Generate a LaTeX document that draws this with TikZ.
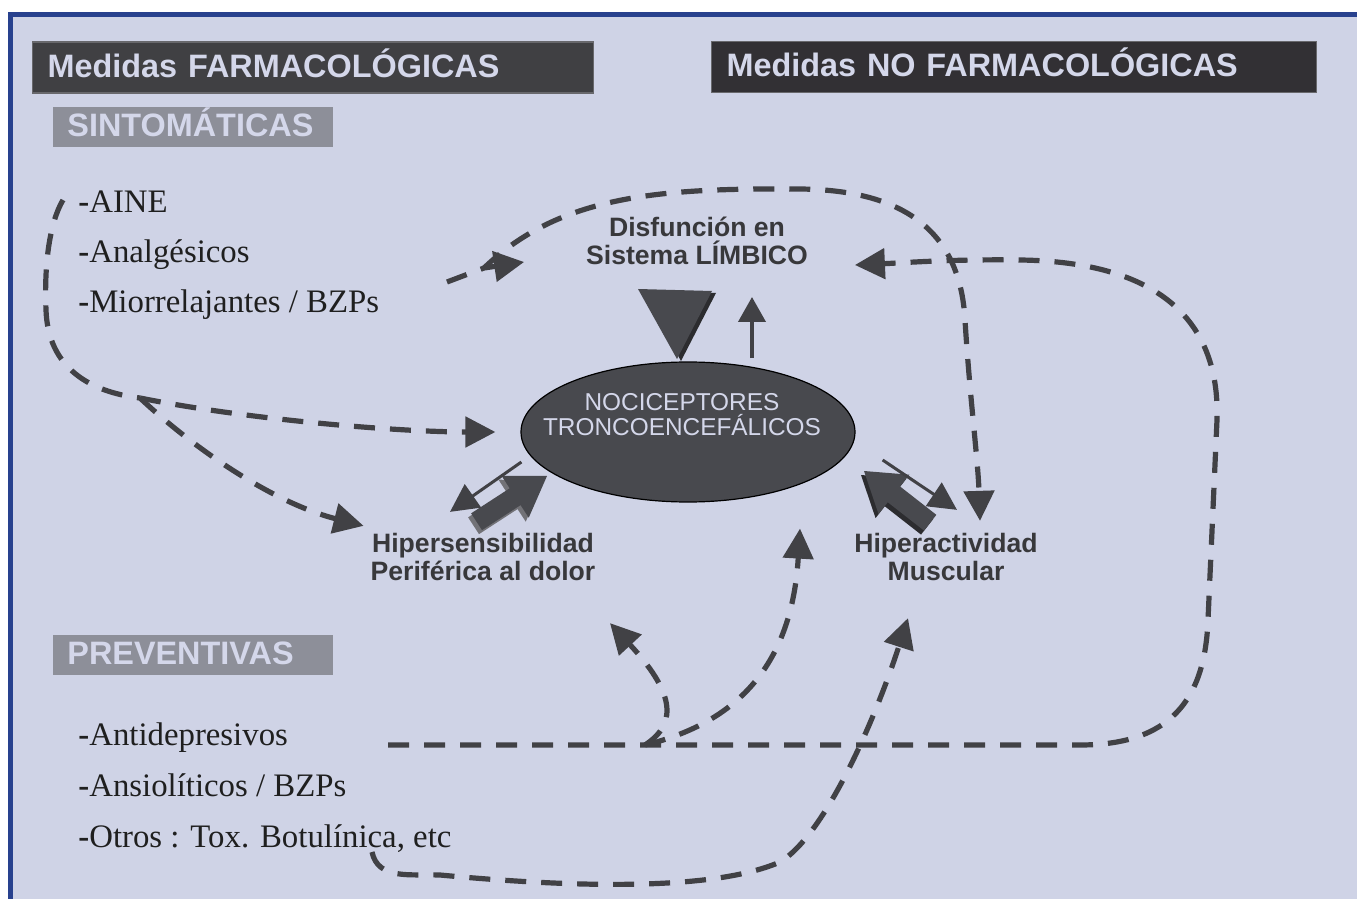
\documentclass[tikz,border=0pt]{standalone}
\usepackage{fontspec}
\setmainfont{Liberation Serif}
\setsansfont{Liberation Sans}
\usepackage{xcolor}
\usepackage{tikz}
\usetikzlibrary{arrows.meta,positioning,shapes.geometric}
\definecolor{bgc}{HTML}{CFD3E6}
\definecolor{bordc}{HTML}{28418E}
\definecolor{hdra}{HTML}{404043}
\definecolor{hdrb}{HTML}{323034}
\definecolor{hdre}{HTML}{68686C}
\definecolor{subc}{HTML}{8D8F99}
\definecolor{lavt}{HTML}{D4D7EA}
\definecolor{inkc}{HTML}{414145}
\definecolor{labc}{HTML}{38383B}
\definecolor{ellc}{HTML}{48494E}
\definecolor{shdc}{HTML}{2C2C2F}
\definecolor{litc}{HTML}{727277}
\tikzset{
  hdr/.style={draw=hdre,line width=0.6pt,anchor=west,minimum height=25.5pt,inner xsep=7.5pt,align=left,
    font=\sffamily\bfseries\fontsize{16.2}{18}\selectfont,text=lavt,text height=11.6pt,text depth=2pt},
  sub/.style={fill=subc,anchor=west,minimum height=20pt,inner xsep=7pt,inner ysep=2pt,text width=126pt,align=left,
    font=\sffamily\bfseries\fontsize{16.2}{18}\selectfont,text=lavt,text height=11.6pt,text depth=2pt},
  itm/.style={anchor=base west,inner sep=0pt,font=\fontsize{16.4}{18}\selectfont,text=black!88},
  lab/.style={align=center,font=\sffamily\bfseries\fontsize{13.3}{14.3}\selectfont,text=labc},
  dl/.style={draw=inkc,line width=2.6pt,dash pattern=on 10.5pt off 7.5pt},
  dla/.style={dl,-{Triangle[length=15pt,width=15pt]}},
  thn/.style={draw=inkc,line width=1.5pt,-{Triangle[length=14pt,width=14pt]}},
  blk/.pic={\fill[pic actions] (0,0) -- (-38,25) -- (-38,10) -- (-84,10) -- (-84,-10) -- (-38,-10) -- (-38,-25) -- cycle;}
}
\begin{document}
\begin{tikzpicture}[x=0.5pt,y=-0.5pt]
\useasboundingbox (0,0) rectangle (1357,899);
\fill[white] (0,0) rectangle (1357,899);
\fill[bgc] (10,14) rectangle (1357,899);
\draw[bordc,line width=2.5pt] (10.5,899) -- (10.5,14.5) -- (1357,14.5);

\node[hdr,fill=hdra,text width=265.5pt] (farma) at (32,67.5) {Medidas FARMACOLÓGICAS};
\node[hdr,fill=hdrb,text width=287.5pt] (nofarma) at (711,67) {Medidas NO FARMACOLÓGICAS};
\node[sub] (sinto) at (53,127) {SINTOMÁTICAS};
\node[sub] (preve) at (53,654.5) {PREVENTIVAS};

\node[itm] (aine) at (78,213) {\textbf{-}AINE};
\node[itm] (analg) at (78,263) {\textbf{-}Analgésicos};
\node[itm] (mio) at (78,313) {\textbf{-}Miorrelajantes / BZPs};
\node[itm] (antid) at (78,745) {\textbf{-}Antidepresivos};
\node[itm] (ansio) at (78,796) {\textbf{-}Ansiolíticos / BZPs};
\node[itm] (otros) at (78,847) {\textbf{-}Otros : Tox. Botulínica, etc};

\node[ellipse,draw=black,line width=0.6pt,fill=ellc,minimum width=167pt,minimum height=70pt,inner sep=0pt] (noci) at (688,432) {};
\node[align=center,text=lavt,font=\sffamily\fontsize{12.2}{12.5}\selectfont] (nocit) at (682,415) {NOCICEPTORES\\TRONCOENCEFÁLICOS};

\fill[shdc] (642,290) -- (716,293) -- (681,361) -- cycle;
\fill[ellc] (638,289) -- (712,291) -- (677,359) -- cycle;
\coordinate (upb) at (752,358);
\coordinate (upt) at (752,297);
\draw[draw=inkc,line width=2pt,-{Triangle[length=12.5pt,width=13.5pt]}] (upb) -- (upt);

\pic[fill=litc,rotate=33] at (544,480) {blk};
\pic[fill=ellc,rotate=33] at (547,476) {blk};
\pic[fill=shdc,rotate=142] at (861,475) {blk};
\pic[fill=ellc,rotate=142] at (864,471) {blk};

\node[lab] (limb) at (697,241) {Disfunción en\\Sistema LÍMBICO};
\node[lab] (hiper) at (483,557) {Hipersensibilidad\\Periférica al dolor};
\node[lab] (musc) at (946,557) {Hiperactividad\\Muscular};

\draw[thn] ([shift={(1,30)}]noci.west) -- ([shift={(-33,-14)}]hiper.north);
\draw[thn] ([shift={(27,28)}]noci.east) -- ([shift={(11,-16)}]musc.north);

\coordinate (c1) at (63,200);
\coordinate (cj) at (140,398);
\coordinate (c2) at (447,282);
\coordinate (cja) at (484,268);
\coordinate (c3) at (388,745);
\coordinate (cjb) at (645,745);
\coordinate (c4) at (372,852);
\draw[dl] (c1) .. controls (50,222) and (44,262) .. (46,310) .. controls (48,368) and (90,392) .. (cj);
\draw[dla] (cj) .. controls (250,420) and (400,432) .. ([xshift=-12.5pt]noci.west);
\draw[dla] (cj) .. controls (190,445) and (270,502) .. (hiper.north west);
\draw[dla] (c2) -- (cja) -- ([shift={(-55,21)}]limb.west);
\draw[dla] (cja) .. controls (560,195) and (660,188) .. (800,189) .. controls (900,190) and (960,228) .. (965,320) .. controls (970,400) and (978,460) .. ([shift={(34,-5)}]musc.north);
\draw[dla] (c3) -- (1080,745) .. controls (1170,745) and (1205,700) .. (1208,620) -- (1217,420) .. controls (1220,330) and (1170,262) .. (1020,260) .. controls (950,259) and (900,263) .. ([shift={(40,24)}]limb.east);
\draw[dla] (cjb) .. controls (740,722) and (792,662) .. ([shift={(112,26)}]noci.south);
\draw[dla] (cjb) .. controls (680,722) and (672,690) .. ([shift={(127,35)}]hiper.south);
\draw[dla] (c4) .. controls (378,880) and (410,874) .. (440,875) .. controls (600,890) and (720,888) .. (780,862) .. controls (825,835) and (875,720) .. ([shift={(-38,30)}]musc.south);
\end{tikzpicture}
\end{document}
